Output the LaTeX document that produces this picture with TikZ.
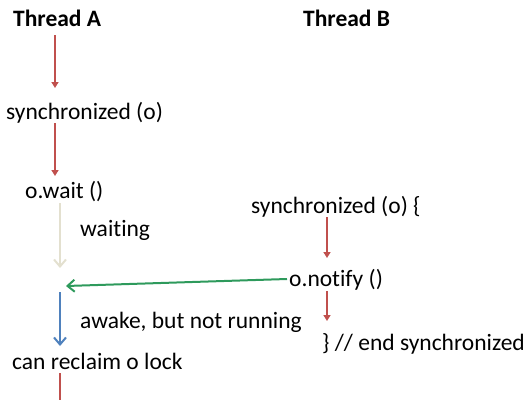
\documentclass[tikz,border=0pt]{standalone}
\usepackage{fontspec}
\setmainfont{Carlito}[Ligatures=NoCommon]
\usetikzlibrary{arrows.meta}
\definecolor{cred}{HTML}{C0504D}
\definecolor{cblue}{HTML}{4F81BD}
\definecolor{cgreen}{HTML}{2E9A5C}
\definecolor{cgrey}{HTML}{E3E0CF}
\tikzset{
  lbl/.style={anchor=west, inner sep=0pt, font=\fontsize{23.5}{27}\selectfont},
  hdr/.style={anchor=west, inner sep=0pt, font=\fontsize{23.5}{27}\selectfont\bfseries},
  redarr/.style={draw=cred, line width=1.8pt, -{Triangle[length=6pt,width=7pt]}},
  openarr/.style={line width=2pt, -{Straight Barb[length=7pt,width=12pt,line width=2pt]}},
}
\begin{document}
\begin{tikzpicture}[x=1pt,y=-1pt]
\useasboundingbox (0,0) rectangle (531,400);
\node[hdr] (ta) at (13,18) {Thread A};
\node[hdr] (tb) at (303,18) {Thread B};
\node[lbl] (syncA) at (6,113) {synchronized (o)};
\node[lbl] (wait) at (25,192) {o.wait ()};
\node[lbl] (waiting) at (80,230) {waiting};
\node[lbl] (awake) at (80,322) {awake, but not running};
\node[lbl] (reclaim) at (12,361) {can reclaim o lock};
\node[lbl] (syncB) at (251,207) {synchronized (o) \{};
\node[lbl] (notify) at (289,280) {o.notify ()};
\node[lbl] (endsync) at (322,344) {\} // end synchronized};
\coordinate (a1s) at (55,35);
\coordinate (a1e) at (55,88);
\coordinate (a2s) at (55,123);
\coordinate (a2e) at (55,176);
\coordinate (ws) at (60,203);
\coordinate (we) at (60,268);
\coordinate (gs) at (287,279);
\coordinate (ge) at (66,286);
\coordinate (bs) at (60,292);
\coordinate (be) at (60,346);
\coordinate (rs) at (60,373);
\coordinate (re) at (60,400);
\coordinate (b1s) at (327,217);
\coordinate (b1e) at (327,258);
\coordinate (b2s) at (327,291);
\coordinate (b2e) at (327,321);
\draw[redarr] (a1s) -- (a1e);
\draw[redarr] (a2s) -- (a2e);
\draw[openarr, draw=cgrey] (ws) -- (we);
\draw[openarr, draw=cgreen] (gs) -- (ge);
\draw[openarr, draw=cblue, line width=2.5pt] (bs) -- (be);
\draw[draw=cred, line width=1.8pt] (rs) -- (re);
\draw[redarr] (b1s) -- (b1e);
\draw[redarr] (b2s) -- (b2e);
\end{tikzpicture}
\end{document}
